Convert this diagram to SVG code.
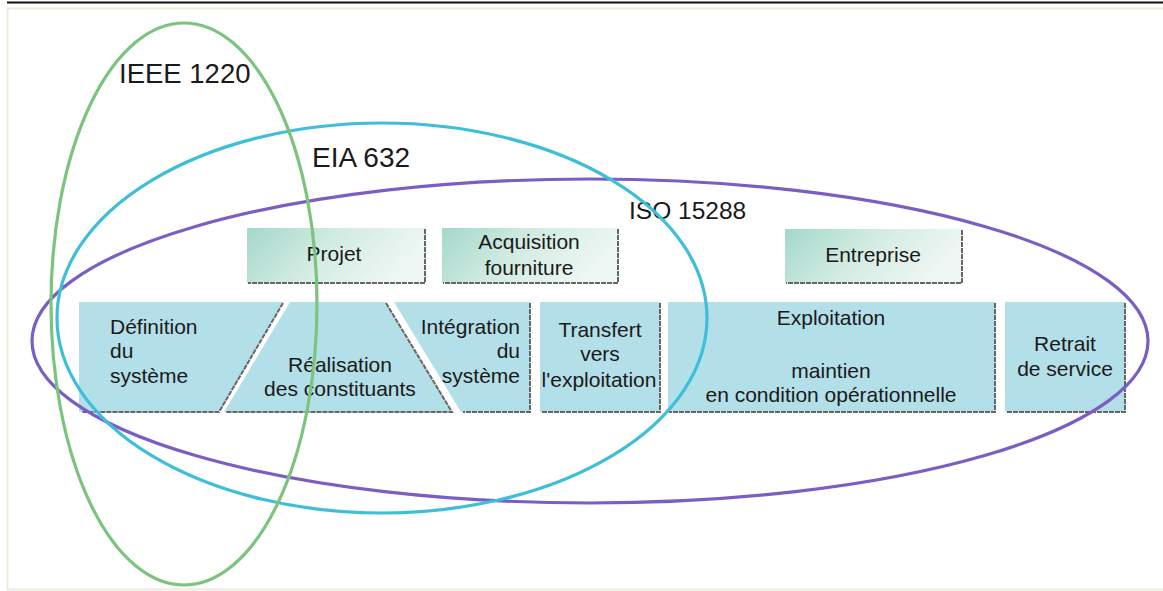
<svg xmlns="http://www.w3.org/2000/svg" width="1163" height="591" viewBox="0 0 1163 591">
<defs>
<linearGradient id="tg" x1="0" y1="0" x2="1" y2="0.3">
<stop offset="0" stop-color="#a3d8cb"/>
<stop offset="0.5" stop-color="#d2ebe2"/>
<stop offset="1" stop-color="#eef7f3"/>
</linearGradient>
<style>
.t{font-family:"Liberation Sans",Arial,sans-serif;fill:#1a1a1a;}
.lbl{font-size:27.5px;}
.bx{font-size:21px;}
.blue{fill:#b3dfe9;}
.top{fill:url(#tg);}
.sh{fill:none;stroke:#666;stroke-width:2;stroke-dasharray:5 1;}
.ell{fill:none;stroke-width:3.2;}
</style>
</defs>
<rect width="1163" height="591" fill="#ffffff"/>
<line x1="7" y1="2.5" x2="1163" y2="2.5" stroke="#111" stroke-width="2"/>
<path d="M1163 8.5 H7.5 V589.5 H1163" fill="none" stroke="#efebdf" stroke-width="2"/>

<g id="projet">
<rect class="top" x="247" y="228" width="178" height="55"/>
<path class="sh" d="M425 229 V283 H248"/>
<text class="t bx" x="334" y="261" text-anchor="middle">Projet</text>
</g>
<g id="acquisition">
<rect class="top" x="442" y="228" width="176" height="55"/>
<path class="sh" d="M618 229 V283 H443"/>
<text class="t bx" x="529" y="249" text-anchor="middle">Acquisition</text>
<text class="t bx" x="529" y="275" text-anchor="middle">fourniture</text>
</g>
<g id="entreprise">
<rect class="top" x="785" y="229" width="177" height="54"/>
<path class="sh" d="M962 230 V283 H786"/>
<text class="t bx" x="873" y="262" text-anchor="middle">Entreprise</text>
</g>

<g id="definition">
<polygon class="blue" points="79,302 283,302 219,412 79,412"/>
<path class="sh" d="M283 303 L219 412 H82"/>
<text class="t bx" x="110" y="334">Définition</text>
<text class="t bx" x="110" y="358">du</text>
<text class="t bx" x="110" y="383">système</text>
</g>
<g id="realisation">
<polygon class="blue" points="290,302 385,302 452,412 224,412"/>
<path class="sh" d="M386 303 L452 412 H226"/>
<text class="t bx" x="340" y="372" text-anchor="middle">Réalisation</text>
<text class="t bx" x="340" y="396" text-anchor="middle">des constituants</text>
</g>
<g id="integration">
<polygon class="blue" points="394,302 530,302 530,412 461,412"/>
<path class="sh" d="M530 303 V412 H463"/>
<text class="t bx" x="520" y="334" text-anchor="end">Intégration</text>
<text class="t bx" x="520" y="358" text-anchor="end">du</text>
<text class="t bx" x="520" y="383" text-anchor="end">système</text>
</g>
<g id="transfert">
<rect class="blue" x="540" y="302" width="120" height="110"/>
<path class="sh" d="M660 303 V412 H541"/>
<text class="t bx" x="600" y="337" text-anchor="middle">Transfert</text>
<text class="t bx" x="600" y="361" text-anchor="middle">vers</text>
<text class="t bx" x="599" y="387" text-anchor="middle">l'exploitation</text>
</g>
<g id="exploitation">
<rect class="blue" x="668" y="302" width="327" height="110"/>
<path class="sh" d="M995 303 V412 H669"/>
<text class="t bx" x="831" y="325" text-anchor="middle">Exploitation</text>
<text class="t bx" x="831" y="378" text-anchor="middle">maintien</text>
<text class="t bx" x="831" y="402" text-anchor="middle">en condition opérationnelle</text>
</g>
<g id="retrait">
<rect class="blue" x="1005" y="302" width="120" height="110"/>
<path class="sh" d="M1125 303 V412 H1006"/>
<text class="t bx" x="1065" y="351" text-anchor="middle">Retrait</text>
<text class="t bx" x="1065" y="376" text-anchor="middle">de service</text>
</g>

<g id="connectors">
<g id="iso15288">
<ellipse class="ell" cx="590" cy="341" rx="558" ry="162" stroke="#7b5ec4"/>
<text class="t" x="629" y="219" style="font-size:24.5px">ISO 15288</text>
</g>
<g id="eia632">
<ellipse class="ell" cx="382" cy="318" rx="325" ry="195" stroke="#3dbfd9"/>
<text class="t" x="312" y="167" style="font-size:28px">EIA 632</text>
</g>
<g id="ieee1220">
<ellipse class="ell" cx="184" cy="304" rx="133" ry="281" stroke="#7cc47e"/>
<text class="t lbl" x="119" y="83">IEEE 1220</text>
</g>
</g>
</svg>
